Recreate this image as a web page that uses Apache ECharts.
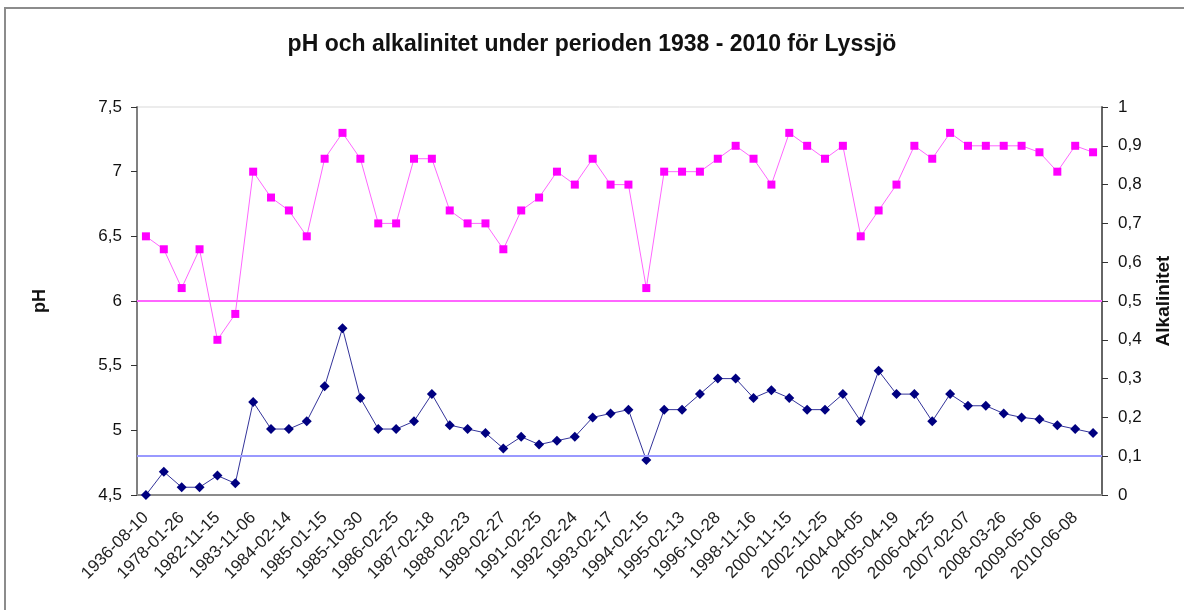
<!DOCTYPE html>
<html>
<head>
<meta charset="utf-8">
<script src="https://cdn.jsdelivr.net/npm/echarts@6/dist/echarts.min.js"></script>
<style>
  html, body { margin: 0; padding: 0; background: #fff; }
  #my_echart { width: 1184px; height: 610px; }
</style>
</head>
<body>
<div id="my_echart"></div>
<script>
// datumetiketter som syns på x-axeln (varannan kategori)
var dateLabels = [
  "1936-08-10", "1978-01-26", "1982-11-15", "1983-11-06", "1984-02-14",
  "1985-01-15", "1985-10-30", "1986-02-25", "1987-02-18", "1988-02-23",
  "1989-02-27", "1991-02-25", "1992-02-24", "1993-02-17", "1994-02-15",
  "1995-02-13", "1996-10-28", "1998-11-16", "2000-11-15", "2002-11-25",
  "2004-04-05", "2005-04-19", "2006-04-25", "2007-02-07", "2008-03-26",
  "2009-05-06", "2010-06-08"
];

// pH (vänster axel)
var phValues = [
  6.5, 6.4, 6.1, 6.4, 5.7, 5.9, 7.0, 6.8, 6.7, 6.5,
  7.1, 7.3, 7.1, 6.6, 6.6, 7.1, 7.1, 6.7, 6.6, 6.6,
  6.4, 6.7, 6.8, 7.0, 6.9, 7.1, 6.9, 6.9, 6.1, 7.0,
  7.0, 7.0, 7.1, 7.2, 7.1, 6.9, 7.3, 7.2, 7.1, 7.2,
  6.5, 6.7, 6.9, 7.2, 7.1, 7.3, 7.2, 7.2, 7.2, 7.2,
  7.15, 7.0, 7.2, 7.15
];

// alkalinitet (höger axel)
var alkValues = [
  0.0, 0.06, 0.02, 0.02, 0.05, 0.03, 0.24, 0.17, 0.17, 0.19,
  0.28, 0.43, 0.25, 0.17, 0.17, 0.19, 0.26, 0.18, 0.17, 0.16,
  0.12, 0.15, 0.13, 0.14, 0.15, 0.20, 0.21, 0.22, 0.09, 0.22,
  0.22, 0.26, 0.30, 0.30, 0.25, 0.27, 0.25, 0.22, 0.22, 0.26,
  0.19, 0.32, 0.26, 0.26, 0.19, 0.26, 0.23, 0.23, 0.21, 0.20,
  0.195, 0.18, 0.17, 0.16
];

// gränsvärden (horisontella linjer)
var phLimit = 6.0;
var alkLimit = 0.1;

// alla kategorier: varannan utan etikett
var categories = [];
for (var i = 0; i < phValues.length; i++) {
  categories.push(i % 2 === 0 ? dateLabels[i / 2] : "");
}

function comma(v) {
  return String(+Number(v).toFixed(2)).replace(".", ",");
}

var chart = echarts.init(document.getElementById("my_echart"));
var font = "Liberation Sans, Arial, sans-serif";

var option = {
  animation: false,
  textStyle: { fontFamily: font },
  graphic: [
    {
      type: "rect",
      shape: { x: 5, y: 8, width: 1200, height: 700 },
      style: { fill: "none", stroke: "#8c8c8c", lineWidth: 2 },
      silent: true
    }
  ],
  title: {
    text: "pH och alkalinitet under perioden 1938 - 2010 för Lyssjö",
    left: "center",
    top: 28,
    textStyle: { fontSize: 23, fontWeight: "bold", color: "#111", fontFamily: font }
  },
  grid: {
    left: 137,
    right: 82,
    top: 107,
    bottom: 115,
    show: true,
    borderColor: "#d9d9d9",
    borderWidth: 1
  },
  xAxis: {
    type: "category",
    data: categories,
    boundaryGap: true,
    axisLine: { lineStyle: { color: "#8c8c8c", width: 2 } },
    axisTick: { interval: 0, length: 5, lineStyle: { color: "#333" } },
    axisLabel: {
      interval: 0,
      rotate: 45,
      fontSize: 17,
      color: "#222",
      margin: 20
    },
    splitLine: { show: false }
  },
  yAxis: [
    {
      type: "value",
      min: 4.5,
      max: 7.5,
      interval: 0.5,
      name: "pH",
      nameLocation: "middle",
      nameRotate: 90,
      nameGap: 88,
      nameTextStyle: { fontWeight: "bold", fontSize: 18, color: "#111" },
      axisLine: { show: true, lineStyle: { color: "#808080", width: 2 } },
      axisTick: { show: true, length: 6, lineStyle: { color: "#333" } },
      axisLabel: { fontSize: 17, color: "#111", margin: 15, formatter: comma },
      splitLine: { show: false }
    },
    {
      type: "value",
      min: 0,
      max: 1,
      interval: 0.1,
      name: "Alkalinitet",
      nameLocation: "middle",
      nameRotate: 90,
      nameGap: 52,
      nameTextStyle: { fontWeight: "bold", fontSize: 19, color: "#111" },
      axisLine: { show: true, lineStyle: { color: "#666", width: 2 } },
      axisTick: { show: true, length: 6, lineStyle: { color: "#333" } },
      axisLabel: { fontSize: 17, color: "#111", margin: 16, formatter: comma },
      splitLine: { show: false }
    }
  ],
  tooltip: { trigger: "item" },
  series: [
    {
      name: "pH",
      type: "line",
      yAxisIndex: 0,
      data: phValues,
      symbol: "rect",
      symbolSize: 8,
      itemStyle: { color: "#ff00ff" },
      lineStyle: { color: "#ff66ff", width: 1 },
      markLine: {
        silent: true,
        symbol: "none",
        label: { show: false },
        lineStyle: { color: "#ff66ff", width: 2, type: "solid" },
        data: [{ yAxis: phLimit }]
      },
      z: 3
    },
    {
      name: "Alkalinitet",
      type: "line",
      yAxisIndex: 1,
      data: alkValues,
      symbol: "diamond",
      symbolSize: 10,
      itemStyle: { color: "#000080" },
      lineStyle: { color: "#333399", width: 1 },
      markLine: {
        silent: true,
        symbol: "none",
        label: { show: false },
        lineStyle: { color: "#9999ff", width: 2, type: "solid" },
        data: [{ yAxis: alkLimit }]
      },
      z: 3
    }
  ]
};

chart.setOption(option);
</script>
</body>
</html>
